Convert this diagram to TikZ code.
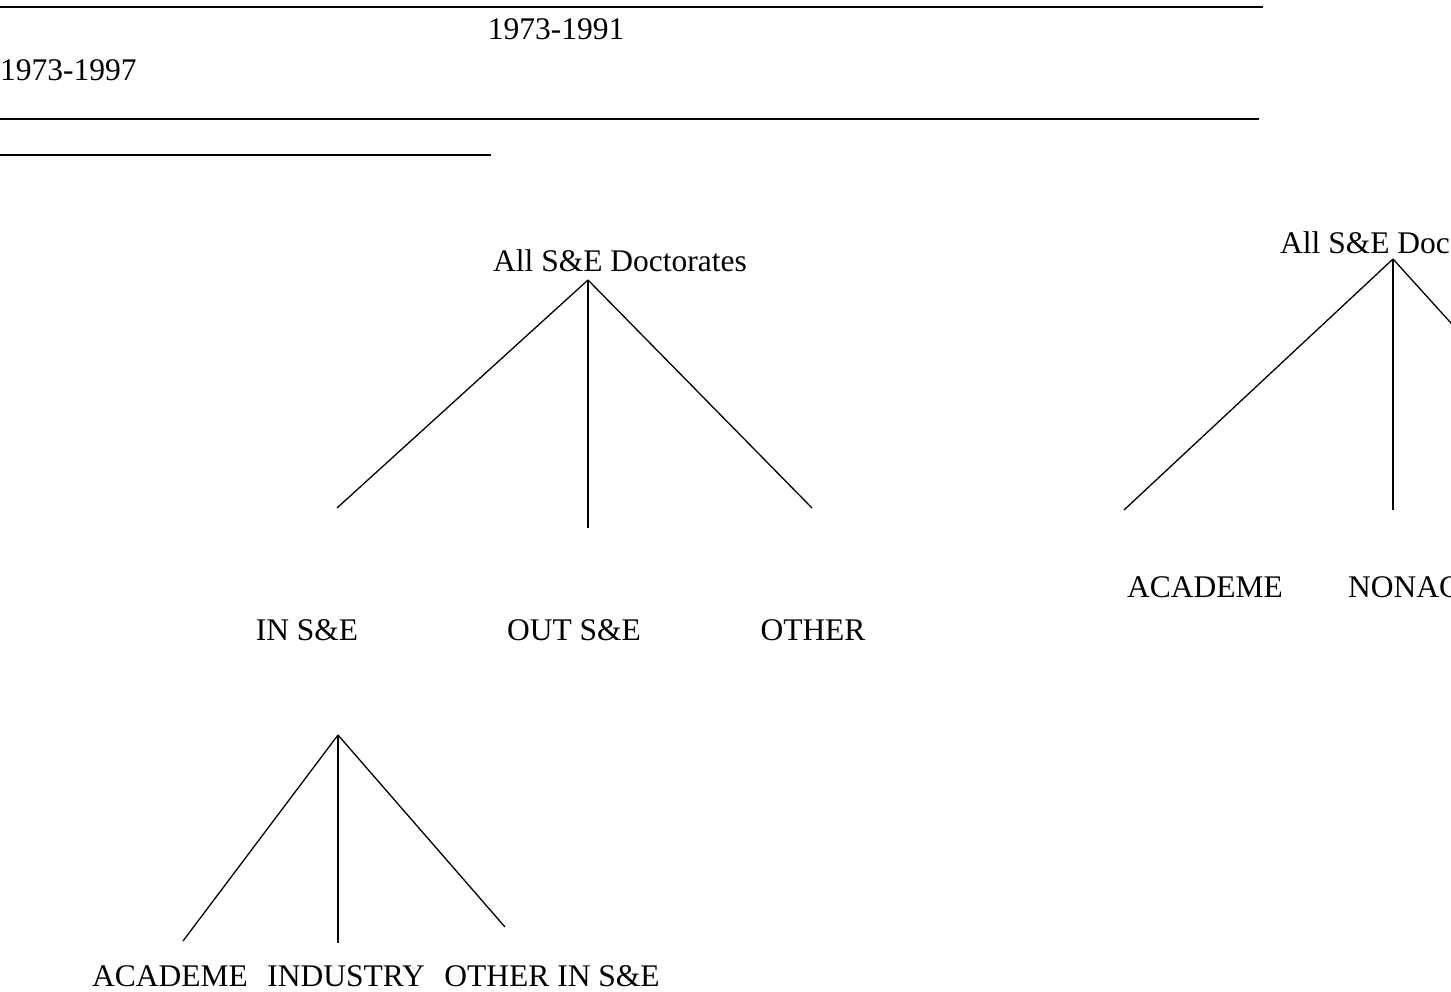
\documentclass[tikz,border=0pt]{standalone}
\usepackage{fontspec}
\setmainfont{Liberation Serif}
\begin{document}
\begin{tikzpicture}[x=1pt,y=-1pt,
  lbl/.style={font=\fontsize{31.5}{36}\selectfont, inner sep=0pt},
  rule/.style={line width=1.4pt},
  branch/.style={line width=1.3pt}]
\useasboundingbox (0,0) rectangle (1451,992);
\clip (0,0) rectangle (1451,992);
% header rules and years
\coordinate (r1a) at (0,7);    \coordinate (r1b) at (1263,7);
\coordinate (r2a) at (0,119);  \coordinate (r2b) at (1259,119);
\coordinate (r3a) at (0,155);  \coordinate (r3b) at (491,155);
\draw[line width=2.6pt] (r1a) -- (r1b);
\draw[rule] (r2a) -- (r2b);
\draw[rule] (r3a) -- (r3b);
\node[lbl, anchor=base] (y1) at (556,40) {1973-1991};
\node[lbl, anchor=base west] (y2) at (0,81) {1973-1997};
% tree 1
\node[lbl, anchor=base] (all1) at (620,272) {All S\&E Doctorates};
\coordinate (ap1) at (588,280);
\coordinate (e1l) at (337,508);
\coordinate (e1m) at (588,528);
\coordinate (e1r) at (812,508);
\draw[branch] (ap1) -- (e1l);
\draw[branch] (ap1) -- (e1m);
\draw[branch] (ap1) -- (e1r);
\node[lbl, anchor=base] (ins) at (307,640) {IN S\&E};
\node[lbl, anchor=base] (outs) at (574,640) {OUT S\&E};
\node[lbl, anchor=base] (oth) at (813,640) {OTHER};
% tree 2
\coordinate (ap2) at (338,735);
\coordinate (e2l) at (183,941);
\coordinate (e2m) at (338,943);
\coordinate (e2r) at (505,927);
\draw[branch] (ap2) -- (e2l);
\draw[branch] (ap2) -- (e2m);
\draw[branch] (ap2) -- (e2r);
\node[lbl, anchor=base west] (sub) at (92,986) {ACADEME\hspace{19.5pt}INDUSTRY\hspace{19.5pt}OTHER IN S\&E};
% tree 3 (right, cut off)
\node[lbl, anchor=base west] (all2) at (1280,254) {All S\&E Doc};
\coordinate (ap3) at (1393,259);
\coordinate (e3l) at (1124,510);
\coordinate (e3m) at (1393,510);
\coordinate (e3r) at (1620,510);
\draw[branch] (ap3) -- (e3l);
\draw[branch] (ap3) -- (e3m);
\draw[branch] (ap3) -- (e3r);
\node[lbl, anchor=base west] (ac3) at (1127,597) {ACADEME};
\node[lbl, anchor=base west] (nac3) at (1348,597) {NONAC};
\end{tikzpicture}
\end{document}
